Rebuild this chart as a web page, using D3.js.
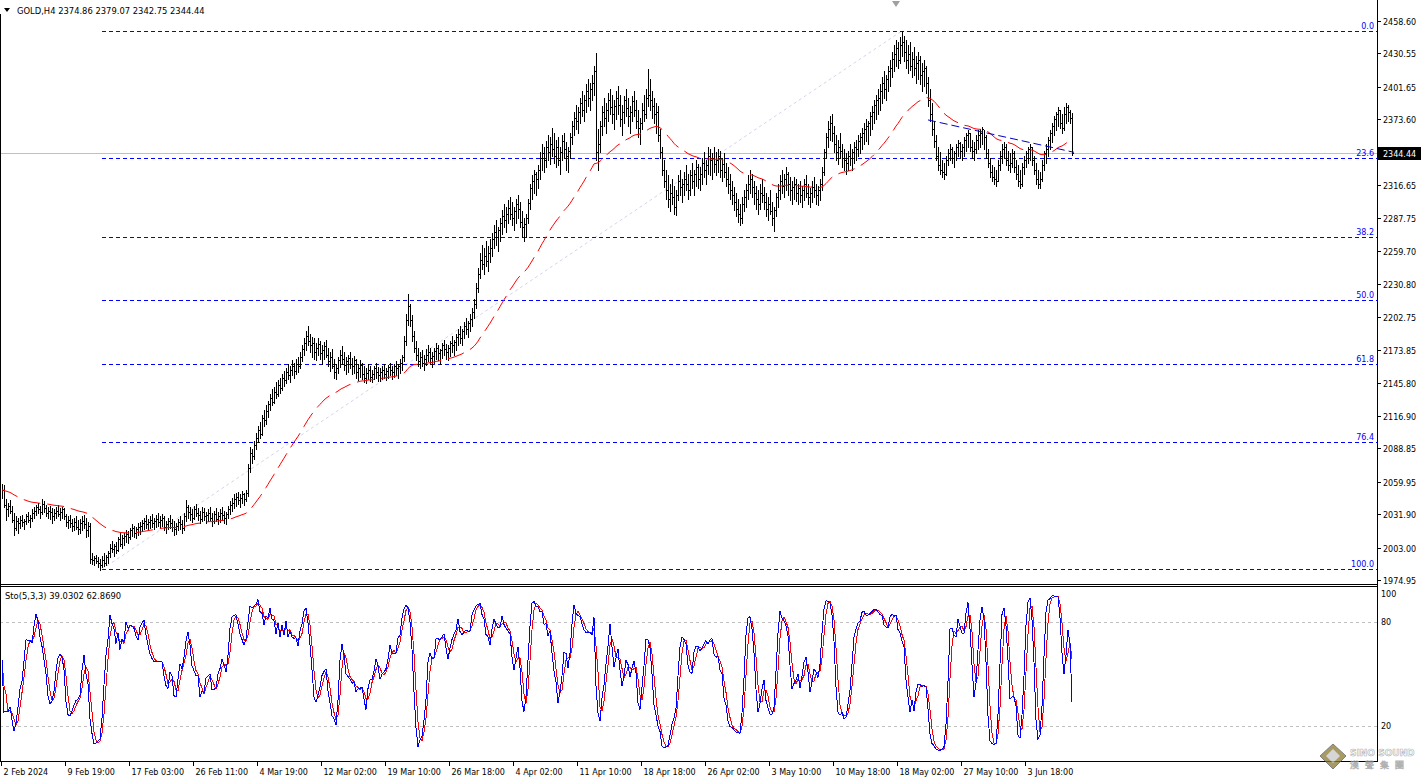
<!DOCTYPE html>
<html><head><meta charset="utf-8">
<script src="https://cdn.jsdelivr.net/npm/d3@7"></script>
<style>body{margin:0;background:#fff;overflow:hidden}svg{display:block;font-family:"DejaVu Sans",Verdana,sans-serif}</style>
</head><body><svg id="c" width="1421" height="780"></svg>
<script>
const symbolTitle = "GOLD,H4";
const lastOHLC = ["2374.86","2379.07","2342.75","2344.44"];
const stoTitle = "Sto(5,3,3)";
const stoLastValues = ["39.0302","62.8690"];

const highs = [
2058,2057,2045,2042,2044,2039,2033,2030, 2029,2030,2031,2028,2032,2034,2031,2036,
2038,2040,2042,2039,2045,2043,2040,2038, 2039,2037,2036,2038,2040,2037,2038,2037,
2032,2030,2031,2028,2029,2030,2027,2028, 2030,2031,2029,2025,2024,
1998,1996,1997,1995,1993,1996,1998,1997, 2000,2006,2009,2006,2008,2012,2016,2014,
2016,2018,2017,2020,2023,2022,2021,2024, 2025,2027,2029,2031,2028,2030,2032,2029,
2031,2033,2030,2032,2030,2026,2029,2031, 2028,2026,2024,2028,2030,2027,2033,2044,
2040,2038,2036,2039,2041,2037,2035,2038, 2037,2034,2036,2038,2033,2035,2037,2034,
2036,2038,2035,2034,2039,2043,2046,2049, 2050,2051,2049,2052,2050,2053,2075,2090,
2088,2095,2102,2108,2112,2118,2122,2126, 2130,2136,2140,2142,2146,2148,2150,2153,
2156,2158,2162,2160,2165,2163,2166,2168, 2172,2178,2184,2190,2195,2188,2185,2184,
2180,2184,2182,2178,2181,2183,2176,2172, 2175,2166,2162,2168,2174,2177,2172,2168,
2170,2172,2167,2169,2166,2162,2165,2163, 2160,2158,2162,2160,2157,2160,2163,2159,
2158,2160,2162,2158,2161,2163,2160,2162, 2164,2162,2166,2170,2186,2205,2222,2214,
2204,2190,2182,2176,2172,2174,2170,2175, 2178,2176,2172,2176,2180,2178,2175,2180,
2183,2179,2178,2182,2186,2183,2188,2192, 2195,2192,2198,2202,2199,2205,2210,2218,
2232,2245,2258,2265,2262,2268,2264,2270, 2275,2282,2286,2280,2288,2295,2300,2298,
2304,2306,2302,2298,2305,2308,2302,2294, 2288,2292,2305,2318,2325,2330,2328,2334,
2345,2352,2350,2355,2360,2358,2366,2362, 2356,2358,2350,2360,2362,2354,2350,2362,
2372,2380,2386,2384,2392,2398,2395,2404, 2408,2405,2412,2420,2431,2365,2372,2385,
2392,2388,2396,2400,2395,2390,2398,2402, 2395,2386,2394,2400,2392,2385,2394,2398,
2390,2382,2375,2388,2395,2400,2417,2408, 2398,2392,2388,2385,2365,2350,2338,2330,
2325,2318,2322,2316,2312,2325,2330,2322, 2328,2334,2326,2330,2336,2330,2338,2335,
2332,2340,2345,2338,2350,2348,2344,2350, 2345,2348,2346,2340,2344,2336,2332,2326,
2320,2315,2310,2305,2300,2306,2312,2318, 2325,2330,2326,2320,2316,2312,2318,2322,
2315,2310,2306,2312,2302,2298,2310,2318, 2325,2330,2326,2332,2328,2324,2320,2324,
2322,2318,2320,2316,2322,2325,2318,2314, 2320,2324,2318,2316,2322,2332,2348,2362,
2372,2376,2378,2368,2360,2356,2362,2352, 2348,2344,2346,2352,2348,2354,2356,2360,
2362,2366,2370,2374,2372,2380,2385,2390, 2395,2400,2404,2410,2415,2412,2420,2425,
2432,2438,2442,2440,2445,2450,2446,2442, 2438,2440,2432,2436,2428,2432,2428,2422,
2425,2420,2410,2400,2388,2372,2360,2350, 2345,2338,2336,2342,2348,2352,2350,2346,
2352,2356,2354,2352,2358,2362,2364,2362, 2356,2354,2360,2364,2365,2367,2364,2360,
2348,2340,2334,2332,2330,2338,2346,2352, 2354,2352,2346,2344,2348,2346,2338,2334,
2330,2336,2342,2346,2350,2352,2350,2342, 2336,2330,2328,2338,2346,2352,2358,2364,
2370,2376,2380,2384,2382,2378,2384,2388,2386,2382,2379.07
];
const lows = [
2046,2038,2027,2030,2033,2025,2014,2018, 2016,2020,2022,2019,2023,2025,2021,2026,
2029,2031,2033,2029,2032,2034,2030,2029, 2028,2024,2027,2029,2030,2027,2029,2028,
2022,2020,2021,2017,2018,2019,2015,2016, 2018,2020,2012,2013,1990,
1989,1988,1990,1986,1984,1986,1987,1988, 1990,1995,1999,1996,1998,2000,2004,2003,
2005,2008,2007,2010,2013,2012,2011,2014, 2015,2017,2019,2020,2018,2020,2021,2019,
2021,2022,2020,2022,2018,2016,2019,2020, 2017,2014,2015,2018,2019,2016,2018,2026,
2029,2027,2025,2028,2030,2027,2024,2026, 2027,2024,2026,2027,2022,2024,2026,2023,
2025,2027,2024,2023,2029,2032,2035,2037, 2039,2041,2038,2042,2040,2043,2048,2068,
2076,2080,2088,2094,2098,2100,2108,2110, 2116,2122,2126,2128,2132,2134,2137,2139,
2143,2145,2149,2146,2152,2150,2153,2155, 2158,2164,2170,2174,2178,2172,2168,2166,
2165,2170,2166,2162,2166,2168,2160,2156, 2158,2150,2149,2154,2159,2162,2157,2153,
2155,2158,2153,2154,2150,2148,2151,2149, 2146,2145,2149,2147,2146,2149,2150,2147,
2147,2149,2150,2148,2150,2152,2149,2151, 2152,2150,2154,2157,2164,2178,2196,2195,
2182,2172,2165,2160,2158,2160,2157,2161, 2164,2162,2159,2163,2166,2165,2162,2167,
2170,2166,2165,2169,2172,2170,2174,2178, 2180,2178,2184,2188,2185,2190,2195,2202,
2210,2224,2236,2244,2240,2247,2242,2250, 2255,2262,2265,2260,2268,2274,2280,2276,
2284,2287,2282,2278,2284,2288,2280,2272, 2268,2272,2284,2296,2305,2310,2308,2314,
2322,2330,2328,2332,2338,2335,2342,2336, 2332,2334,2326,2338,2340,2330,2328,2340,
2352,2360,2365,2362,2370,2376,2372,2380, 2385,2382,2390,2395,2338,2330,2345,2360,
2368,2362,2372,2378,2370,2365,2374,2378, 2368,2360,2370,2376,2368,2362,2372,2376,
2366,2358,2352,2365,2372,2375,2385,2382, 2375,2370,2362,2355,2340,2325,2315,2305,
2298,2294,2300,2292,2291,2304,2308,2302, 2308,2312,2305,2308,2314,2308,2316,2314,
2312,2318,2324,2318,2326,2325,2322,2328, 2325,2328,2324,2320,2324,2316,2310,2305,
2300,2295,2290,2285,2282,2284,2294,2298, 2305,2310,2306,2300,2296,2292,2296,2302,
2296,2290,2286,2292,2282,2277,2290,2298, 2305,2310,2306,2312,2308,2304,2300,2305,
2303,2300,2302,2298,2304,2306,2300,2298, 2302,2306,2300,2299,2304,2312,2325,2340,
2350,2356,2355,2345,2338,2335,2340,2332, 2330,2326,2330,2334,2330,2336,2338,2342,
2344,2348,2352,2355,2352,2360,2365,2370, 2374,2378,2382,2388,2392,2390,2398,2402,
2410,2415,2420,2418,2422,2428,2424,2418, 2414,2416,2410,2412,2405,2408,2404,2398,
2402,2396,2385,2372,2360,2350,2338,2330, 2326,2324,2322,2325,2334,2338,2336,2332,
2338,2342,2340,2338,2342,2346,2350,2346, 2340,2338,2344,2348,2350,2352,2348,2340,
2332,2324,2320,2318,2316,2320,2330,2336, 2340,2334,2330,2328,2332,2328,2322,2316,
2314,2316,2326,2332,2336,2338,2334,2326, 2318,2314,2314,2320,2330,2336,2342,2348,
2354,2360,2364,2368,2366,2362,2364,2370,2372,2370,2342.75
];
const closes = [
2053,2040,2036,2039,2035,2027,2020,2026, 2024,2027,2025,2026,2030,2027,2029,2033,
2035,2038,2036,2034,2041,2037,2033,2035, 2034,2030,2033,2035,2032,2034,2036,2030,
2025,2027,2024,2022,2025,2021,2019,2024, 2026,2023,2018,2022,1993,
1992,1994,1991,1990,1988,1992,1990,1995, 1998,2003,2002,2004,2001,2010,2006,2011,
2013,2015,2012,2018,2020,2016,2019,2021, 2022,2024,2026,2023,2025,2027,2024,2026,
2028,2025,2027,2029,2021,2023,2026,2024, 2021,2019,2022,2025,2023,2020,2030,2038,
2034,2032,2029,2036,2033,2031,2028,2034, 2030,2031,2033,2029,2026,2032,2028,2030,
2033,2031,2029,2032,2036,2040,2042,2045, 2047,2044,2046,2049,2045,2050,2072,2085,
2082,2092,2098,2105,2101,2115,2113,2121, 2127,2132,2129,2138,2136,2144,2141,2150,
2148,2155,2152,2157,2160,2156,2162,2160, 2168,2175,2180,2186,2182,2178,2180,2172,
2176,2179,2171,2174,2177,2170,2164,2168, 2160,2155,2158,2165,2170,2166,2161,2164,
2167,2162,2160,2165,2155,2158,2161,2153, 2150,2154,2157,2151,2153,2158,2155,2152,
2155,2157,2153,2156,2159,2157,2155,2160, 2158,2160,2163,2168,2182,2200,2212,2200,
2186,2176,2170,2164,2168,2163,2166,2170, 2172,2167,2169,2173,2176,2171,2174,2178,
2175,2172,2176,2180,2178,2181,2185,2188, 2184,2190,2195,2192,2197,2201,2207,2214,
2228,2240,2252,2248,2255,2251,2258,2262, 2270,2276,2272,2278,2284,2290,2286,2292,
2297,2292,2288,2294,2300,2296,2285,2280, 2283,2288,2301,2314,2320,2326,2322,2330,
2340,2344,2338,2350,2345,2352,2348,2342, 2350,2338,2345,2355,2348,2342,2346,2358,
2368,2375,2372,2380,2388,2382,2390,2398, 2392,2400,2405,2415,2345,2352,2368,2380,
2375,2382,2390,2384,2378,2385,2392,2386, 2374,2380,2390,2383,2376,2380,2389,2382,
2372,2366,2370,2382,2378,2392,2395,2390, 2385,2378,2380,2360,2345,2330,2320,2312,
2305,2310,2306,2298,2308,2320,2315,2318, 2322,2318,2312,2325,2320,2326,2332,2322,
2326,2336,2330,2334,2342,2338,2340,2335, 2338,2342,2330,2335,2328,2322,2318,2312,
2308,2302,2296,2292,2288,2300,2306,2312, 2318,2322,2315,2310,2305,2300,2310,2308,
2302,2296,2300,2294,2288,2295,2306,2312, 2320,2316,2322,2326,2318,2312,2315,2318,
2310,2314,2308,2312,2318,2310,2306,2310, 2315,2312,2308,2312,2318,2328,2345,2358,
2365,2370,2362,2352,2345,2350,2346,2340, 2338,2336,2342,2340,2345,2350,2348,2355,
2358,2362,2365,2368,2370,2376,2380,2386, 2390,2392,2398,2405,2400,2408,2415,2418,
2426,2430,2435,2425,2438,2440,2432,2425, 2430,2420,2426,2418,2422,2425,2412,2415,
2418,2405,2390,2378,2365,2355,2342,2334, 2330,2328,2326,2338,2344,2348,2340,2344,
2350,2353,2346,2350,2356,2360,2362,2350, 2346,2348,2356,2360,2362,2365,2358,2344,
2336,2328,2324,2322,2320,2334,2342,2348, 2350,2338,2334,2336,2344,2332,2326,2320,
2318,2332,2338,2344,2348,2350,2338,2330, 2322,2318,2322,2334,2344,2348,2356,2362,
2368,2374,2378,2382,2370,2366,2378,2384,2380,2375,2344.44
];

const priceTicks = [2458.60,2430.55,2401.65,2373.60,2316.65,2287.75,2259.70,2230.80,2202.75,2173.85,2145.80,2116.90,2088.85,2059.95,2031.90,2003.00,1974.95];
const dateLabels = ["2 Feb 2024","9 Feb 19:00","17 Feb 03:00","26 Feb 11:00","4 Mar 19:00","12 Mar 02:00","19 Mar 10:00","26 Mar 18:00","4 Apr 02:00","11 Apr 10:00","18 Apr 18:00","26 Apr 02:00","3 May 10:00","10 May 18:00","18 May 02:00","27 May 10:00","3 Jun 18:00"];
const dateLabelBars = [0,32,64,96,128,160,192,224,256,288,320,352,384,416,448,480,512];
const fibLevels = [0, 23.6, 38.2, 50.0, 61.8, 76.4, 100.0];
const fibHighPrice = 2450.07, fibHighBar = 450;
const fibLowPrice = 1984.25, fibLowBar = 50;
const stoLevels = [20, 80];
const stoTicks = [100, 80, 20];
const trendBars = [463, 536];
const trendPrices = [2373, 2345];
const maPeriod = 50;
const stoK = 5, stoD = 3, stoSlow = 3;

const svg = d3.select("#c");
const axisX = 1377, mainBottom = 584, subTop = 586, subBottom = 761;
const n = closes.length;
const x = d3.scaleLinear().domain([0, n - 1]).range([2, 2 + 2 * (n - 1)]);
const y = d3.scaleLinear().domain([1974.95, 2458.60]).range([580, 21]);
const ys = d3.scaleLinear().domain([0, 100]).range([760.6, 587.7]);
const px = v => Math.round(v) + 0.5;

const defs = svg.append("defs");
defs.append("clipPath").attr("id","cm").append("rect").attr("x",1).attr("y",0).attr("width",axisX-1).attr("height",mainBottom);
defs.append("clipPath").attr("id","cs").append("rect").attr("x",1).attr("y",subTop).attr("width",axisX-1).attr("height",subBottom-subTop);

const frame = svg.append("g").attr("stroke","#000").attr("shape-rendering","crispEdges");
frame.append("line").attr("x1",axisX+0.5).attr("x2",axisX+0.5).attr("y1",0).attr("y2",subBottom+1);
frame.append("line").attr("x1",0.5).attr("x2",0.5).attr("y1",14).attr("y2",subBottom+1);
frame.append("line").attr("x1",0).attr("x2",axisX).attr("y1",mainBottom+0.5).attr("y2",mainBottom+0.5);
frame.append("line").attr("x1",0).attr("x2",axisX).attr("y1",subTop+0.5).attr("y2",subTop+0.5);
frame.append("line").attr("x1",0).attr("x2",axisX+1).attr("y1",subBottom+0.5).attr("y2",subBottom+0.5);

const main = svg.append("g").attr("clip-path","url(#cm)");

main.append("line").attr("x1",0).attr("x2",axisX).attr("y1",px(y(closes[n-1]))).attr("y2",px(y(closes[n-1])))
  .attr("stroke","#c0c0c0").attr("shape-rendering","crispEdges");

main.append("line").attr("x1",x(fibLowBar)).attr("y1",y(fibLowPrice)).attr("x2",x(fibHighBar)).attr("y2",y(fibHighPrice))
  .attr("stroke","#d4d4ee").attr("stroke-dasharray","3,3");

const fibG = main.append("g");
fibLevels.forEach(lv => {
  const p = fibHighPrice - (fibHighPrice - fibLowPrice) * lv / 100;
  const yy = px(y(p));
  fibG.append("line").attr("x1",x(fibLowBar)).attr("x2",axisX).attr("y1",yy).attr("y2",yy)
    .attr("stroke","#0000ff").attr("stroke-dasharray","4,3").attr("shape-rendering","crispEdges");
  fibG.append("text").attr("x",axisX-3).attr("y",yy-3).attr("text-anchor","end").attr("font-size",8).attr("fill","#0000ff").text(lv.toFixed(1));
});

const bars = main.append("g").attr("stroke","#000").attr("shape-rendering","crispEdges");
bars.selectAll("line.hl").data(highs).join("line").attr("class","hl")
  .attr("x1",(d,i)=>px(x(i))).attr("x2",(d,i)=>px(x(i)))
  .attr("y1",d=>Math.round(y(d))).attr("y2",(d,i)=>Math.round(y(lows[i]))+1);
bars.selectAll("line.cl").data(closes).join("line").attr("class","cl")
  .attr("x1",(d,i)=>Math.round(x(i))+1).attr("x2",(d,i)=>Math.round(x(i))+2)
  .attr("y1",d=>px(y(d))).attr("y2",d=>px(y(d)));

const ema = [];
const k = 2 / (maPeriod + 1);
closes.forEach((c,i) => ema.push(i === 0 ? c : ema[i-1] + k * (c - ema[i-1])));
main.append("path").datum(ema).attr("fill","none").attr("stroke","#ff0000").attr("stroke-width",1)
  .attr("stroke-dasharray","17,7")
  .attr("d", d3.line().x((d,i)=>x(i)).y(d=>y(d)));

main.append("line").attr("x1",x(trendBars[0])).attr("y1",y(trendPrices[0])).attr("x2",x(trendBars[1])).attr("y2",y(trendPrices[1]))
  .attr("stroke","#0000c8").attr("stroke-dasharray","8,4");

svg.append("path").attr("d",`M${x(447)-4},1L${x(447)+4},1L${x(447)},7Z`).attr("fill","#a0a0a0");

svg.append("path").attr("d","M4,8L10,8L7,12Z").attr("fill","#000");
svg.append("text").attr("x",17).attr("y",14).attr("font-size",8.4).attr("fill","#000")
  .text(symbolTitle + "  " + lastOHLC.join(" "));

const ax = svg.append("g");
priceTicks.forEach(v => {
  const yy = Math.round(y(v)) + 0.5;
  ax.append("line").attr("x1",axisX).attr("x2",axisX+4).attr("y1",yy).attr("y2",yy).attr("stroke","#000").attr("shape-rendering","crispEdges");
  ax.append("text").attr("x",axisX+6).attr("y",yy+3).attr("font-size",8).attr("fill","#000").text(v.toFixed(2));
});
const yl = Math.round(y(closes[n-1]));
ax.append("rect").attr("x",axisX+1).attr("y",yl-6).attr("width",44).attr("height",13).attr("fill","#000");
ax.append("text").attr("x",axisX+6).attr("y",yl+3.5).attr("font-size",8).attr("fill","#fff").text(closes[n-1].toFixed(2));

const mainK = new Array(n).fill(null), sig = new Array(n).fill(null);
const LL = [], HH = [];
for (let i = 0; i < n; i++) {
  const s = Math.max(0, i - stoK + 1);
  LL.push(d3.min(lows.slice(s, i + 1)));
  HH.push(d3.max(highs.slice(s, i + 1)));
}
for (let i = 0; i < n; i++) {
  const s = Math.max(0, i - stoSlow + 1);
  let num = 0, den = 0;
  for (let j = s; j <= i; j++) { num += closes[j] - LL[j]; den += HH[j] - LL[j]; }
  mainK[i] = den === 0 ? 50 : 100 * num / den;
}
for (let i = 0; i < n; i++) {
  const s = Math.max(0, i - stoD + 1);
  sig[i] = d3.mean(mainK.slice(s, i + 1));
}
const sub = svg.append("g").attr("clip-path","url(#cs)");
stoLevels.forEach(v => {
  sub.append("line").attr("x1",0).attr("x2",axisX).attr("y1",px(ys(v))).attr("y2",px(ys(v)))
    .attr("stroke","#c0c0c0").attr("stroke-dasharray","3,3").attr("shape-rendering","crispEdges");
});
const sl = d3.line().x((d,i)=>x(i)).y(d=>ys(d));
sub.append("path").datum(sig).attr("fill","none").attr("stroke","#ff0000").attr("d",sl).attr("shape-rendering","crispEdges");
sub.append("path").datum(mainK).attr("fill","none").attr("stroke","#0000ff").attr("d",sl).attr("shape-rendering","crispEdges");
svg.append("text").attr("x",5).attr("y",599).attr("font-size",8.4).attr("fill","#000")
  .text(stoTitle + " " + stoLastValues.join(" "));
stoTicks.forEach(v => {
  const yy = v === 100 ? ys(v) + 9.5 : ys(v) + 3;
  svg.append("text").attr("x",axisX+4).attr("y",yy).attr("font-size",8).attr("fill","#000").text(v);
});

const tx = svg.append("g");
dateLabels.forEach((t,i) => {
  const xx = px(x(dateLabelBars[i])) - 1;
  tx.append("line").attr("x1",xx).attr("x2",xx).attr("y1",subBottom).attr("y2",subBottom+5).attr("stroke","#000").attr("shape-rendering","crispEdges");
  tx.append("text").attr("x",xx+2).attr("y",775).attr("font-size",8).attr("fill","#000").text(t);
});

const wm = svg.append("g").attr("opacity",0.75);
wm.append("path").attr("d","M1333,744L1346,756L1333,769L1320,756Z").attr("fill","#8a7a30").attr("stroke","#555");
wm.append("path").attr("d","M1333,749L1340,756L1333,763L1326,756Z").attr("fill","#c8c8c8");
wm.append("text").attr("x",1350).attr("y",756).attr("font-size",9).attr("font-weight","bold").attr("fill","#fff").attr("stroke","#999").attr("stroke-width",0.6).text("SINO SOUND");
wm.append("text").attr("x",1350).attr("y",768).attr("font-size",9).attr("fill","#fff").attr("stroke","#999").attr("stroke-width",0.6).attr("letter-spacing",6).text("漢聲集團");
</script></body></html>
